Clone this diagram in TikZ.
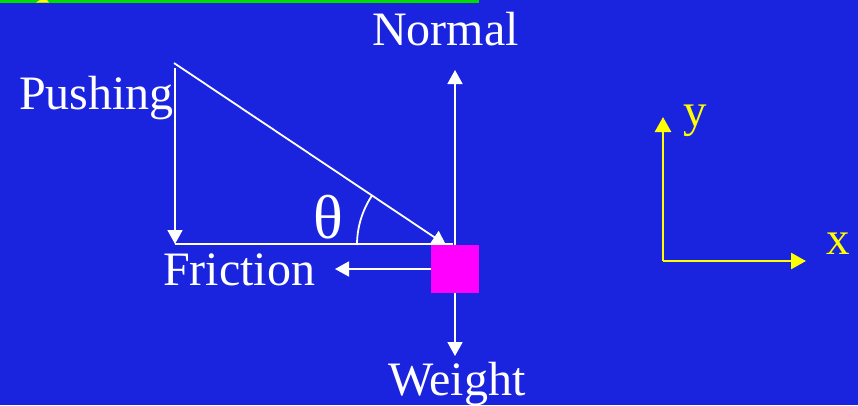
\documentclass[tikz,border=0pt]{standalone}
\usepackage{fontspec}
\setmainfont{Liberation Serif}
\newfontfamily\timesfont{Liberation Serif}
\usetikzlibrary{arrows.meta}
\definecolor{bgblue}{RGB}{26,36,222}
\definecolor{boxmag}{RGB}{255,0,255}
\definecolor{axyellow}{RGB}{255,255,0}
\definecolor{topgreen}{RGB}{0,220,0}
\begin{document}
\begin{tikzpicture}[x=1pt,y=-1pt,
  lbl/.style={text=white,inner sep=0pt,anchor=base west,font=\timesfont\fontsize{48}{48}\selectfont},
  axlbl/.style={text=axyellow,inner sep=0pt,anchor=base west,font=\timesfont\fontsize{47}{47}\selectfont},
  force/.style={draw=white,line width=1.8pt,-{Triangle[length=14pt,width=15pt]}},
  plain/.style={draw=white,line width=1.8pt},
  axis/.style={draw=axyellow,line width=2.6pt,-{Triangle[length=15pt,width=16pt]}}]
\useasboundingbox (0,0) rectangle (858,405);
\fill[bgblue] (0,0) rectangle (858,405);
% top fragments
\fill[topgreen] (0,0) rectangle (479,2.5);
\fill[axyellow] (36,2.5) -- (40,0) -- (47,0) -- (49,2.5) -- cycle;
% block
\node[fill=boxmag,minimum size=48pt,inner sep=0pt,draw=none] (box) at (455,269) {};
% coordinates
\coordinate (ptop) at (174,63);
\coordinate (vtop) at (175,68);
\coordinate (corner) at (175,244);
\coordinate (tip) at (446,245);
\coordinate (hend) at (453,244);
\coordinate (ntip) at (455,70);
\coordinate (wtip) at (455,356);
\coordinate (ftip) at (335,269);
% vector triangle
\draw[plain] (corner) -- (hend);
\draw[force] (vtop) -- (corner);
\draw[force] (ptop) -- (tip);
\draw[plain] (tip) ++(-89,0) arc[start angle=180,end angle=213.6,radius=89];
% forces on block
\draw[force] (box.north) -- (ntip);
\draw[force] (box.south) -- (wtip);
\draw[force] (box.west) -- (ftip);
% labels
\node[lbl] (normal) at (372,45) {Normal};
\node[lbl] (pushing) at (19,109) {Pushing};
\node[lbl] (friction) at (163,285) {Friction};
\node[lbl] (weight) at (388,395) {Weight};
\node[lbl,font=\timesfont\fontsize{62}{62}\selectfont] (theta) at (313,238) {θ};
% axes
\coordinate (origin) at (663,261);
\coordinate (ytip) at (663,117);
\coordinate (xtip) at (806,261);
\draw[axis] (origin) -- (ytip);
\draw[axis] (origin) -- (xtip);
\node[axlbl] (ylab) at (683,126) {y};
\node[axlbl] (xlab) at (826,254) {x};
\end{tikzpicture}
\end{document}
